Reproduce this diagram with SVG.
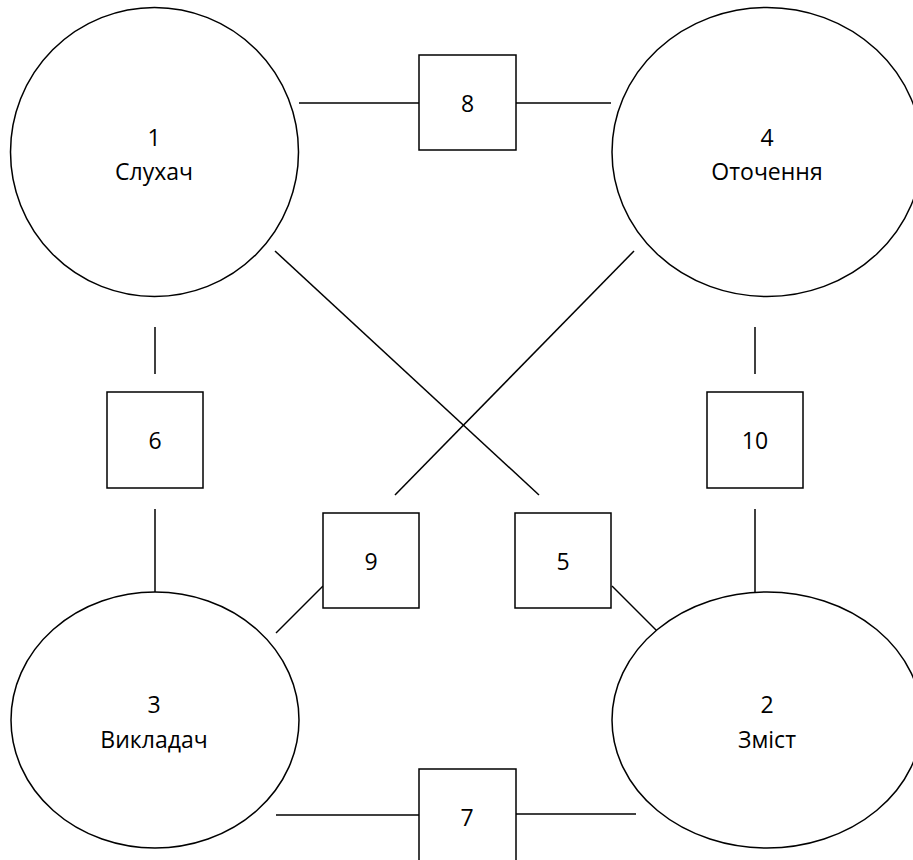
<svg xmlns="http://www.w3.org/2000/svg" width="913" height="860" viewBox="0 0 913 860">
<style>
.n{fill:#fff;stroke:#000;stroke-width:1.5}
.c line{stroke:#000;stroke-width:1.5}
text{font-family:"Open Sans","DejaVu Sans",sans-serif;font-size:23px;fill:#000;text-anchor:middle}
</style>
<rect width="913" height="860" fill="#fff"/>
<g class="c" id="connectors">
<line x1="299" y1="103" x2="419" y2="103"/>
<line x1="516" y1="103" x2="611" y2="103"/>
<line x1="155" y1="327" x2="155" y2="374"/>
<line x1="155" y1="509" x2="155" y2="592"/>
<line x1="755" y1="327" x2="755" y2="374"/>
<line x1="755" y1="509" x2="755" y2="592"/>
<line x1="275" y1="251" x2="539" y2="495"/>
<line x1="634" y1="251" x2="395" y2="495"/>
<line x1="323" y1="586" x2="276" y2="633"/>
<line x1="612" y1="586" x2="659" y2="633"/>
<line x1="276" y1="815" x2="419" y2="815"/>
<line x1="516" y1="814" x2="636" y2="814"/>
</g>
<g id="n1"><ellipse class="n" cx="154.5" cy="152" rx="144" ry="144.5"/><text x="154" y="146">1</text><text x="154" y="180">Слухач</text></g>
<g id="n4"><ellipse class="n" cx="767" cy="152" rx="155" ry="144.5"/><text x="767" y="146">4</text><text x="767" y="180">Оточення</text></g>
<g id="n3"><ellipse class="n" cx="155" cy="720" rx="144" ry="128"/><text x="154" y="713">3</text><text x="154" y="748">Викладач</text></g>
<g id="n2"><ellipse class="n" cx="767" cy="720" rx="155" ry="128"/><text x="767" y="713">2</text><text x="767" y="748">Зміст</text></g>
<g id="b8"><rect class="n" x="419" y="55" width="97" height="95"/><text x="467.5" y="112">8</text></g>
<g id="b6"><rect class="n" x="107" y="392" width="96" height="96"/><text x="155" y="449">6</text></g>
<g id="b10"><rect class="n" x="707" y="392" width="96" height="96"/><text x="755" y="449">10</text></g>
<g id="b9"><rect class="n" x="323" y="513" width="96" height="95"/><text x="371" y="570">9</text></g>
<g id="b5"><rect class="n" x="515" y="513" width="96" height="95"/><text x="563" y="570">5</text></g>
<g id="b7"><rect class="n" x="419" y="769" width="97" height="100"/><text x="467" y="826">7</text></g>
</svg>
